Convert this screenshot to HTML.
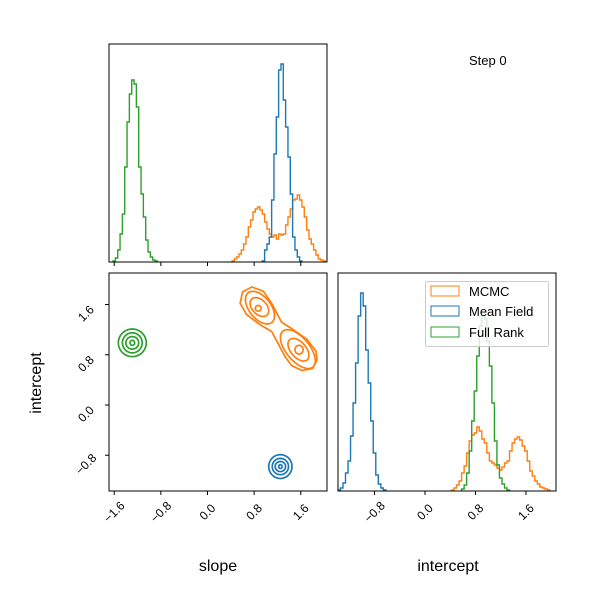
<!DOCTYPE html>
<html><head><meta charset="utf-8"><style>
html,body{margin:0;padding:0;background:#fff;}
svg{display:block;font-family:"Liberation Sans","DejaVu Sans",sans-serif;}
</style></head><body>
<svg id="chart" width="600" height="600" viewBox="0 0 600 600">
<rect width="600" height="600" fill="#fff"/>
</svg>
<script>
const binWidth = 0.04;
const slopeOrangeStart = 0.44;
const slopeOrange = [1,3,5,8,12,18,25,35,42,50,53,55,52,48,40,33,28,25,27,23,28,27,28,37,45,53,62,63,67,62,55,45,32,23,18,12,7,3,2,1];
const slopeBlueStart = 0.96;
const slopeBlue = [1,12,18,25,62,108,145,192,198,162,135,105,68,25,12,5,1];
const slopeGreenStart = -1.60;
const slopeGreen = [1,4,12,28,48,95,140,168,182,178,155,95,68,45,22,10,5,2,1];
const icptOrangeStart = 0.44;
const icptOrange = [1,3,6,10,18,25,38,50,56,58,64,60,52,48,38,30,28,26,23,21,24,28,30,40,48,52,54,51,45,40,30,20,15,10,7,4,3,2,1];
const icptBlueStart = -1.36;
const icptBlue = [1,3,8,18,30,55,88,128,175,198,185,141,108,70,38,16,7,3,1];
const icptGreenStart = 0.60;
const icptGreen = [2,6,18,40,70,100,135,165,175,172,150,125,88,50,26,13,7,3,1];
const countMax = 218;
// contours: [cx, cy, rx, ry, rho]
const greenLevels = [[-1.29,0.99,0.24,0.22,0],[-1.29,0.99,0.17,0.16,0],[-1.29,0.99,0.11,0.10,0],[-1.29,0.99,0.04,0.04,0]];
const blueLevels = [[1.25,-0.98,0.20,0.19,0],[1.25,-0.98,0.14,0.13,0],[1.25,-0.98,0.09,0.08,0],[1.25,-0.98,0.03,0.03,0]];
const orangeLevels = [[0.90,1.55,0.25,0.26,-0.5],[0.89,1.56,0.16,0.15,-0.4],[0.87,1.54,0.05,0.045,0],
                      [1.55,0.89,0.30,0.31,-0.6],[1.56,0.88,0.18,0.18,-0.5],[1.57,0.88,0.07,0.07,0]];
const orangeOuterSlope = [0.60,0.76,0.96,1.10,1.19,1.27,1.47,1.70,1.86,1.88,1.80,1.62,1.44,1.33,1.21,1.10,0.90,0.67,0.56];
const orangeOuterIcpt  = [1.80,1.88,1.81,1.62,1.46,1.32,1.20,1.05,0.86,0.72,0.58,0.55,0.63,0.77,0.98,1.17,1.28,1.44,1.62];
const slopeTicks = [-1.6,-0.8,0.0,0.8,1.6];
const icptTicks = [-0.8,0.0,0.8,1.6];
const tickLabel = {"-1.6":"\u22121.6","-0.8":"\u22120.8","0":"0.0","0.8":"0.8","1.6":"1.6"};

const C = {orange:"#ff7f0e", blue:"#1f77b4", green:"#2ca02c"};
const NS = "http://www.w3.org/2000/svg";
const svg = document.getElementById('chart');
function el(tag, attrs, parent){const e=document.createElementNS(NS,tag);for(const k in attrs)e.setAttribute(k,attrs[k]);(parent||svg).appendChild(e);return e;}

const sx = v => 207.5 + v*58.3;
const syL = v => 405 - v*62.8;
const ix = v => 425 + v*63.1;
const hTop = c => 262 - c/countMax*218;
const hBR = c => 491 - c/countMax*218;

function clip(id,x,y,w,h){const d=el('clipPath',{id:id});el('rect',{x:x,y:y,width:w,height:h},d);}
clip('cTop',109,44,218,218);clip('cBL',109,273,218,218);clip('cBR',338,273,218,218);

function histPath(start, counts, xf, yf){
  let x0 = xf(start - binWidth/2);
  let d = 'M'+x0+','+yf(0);
  counts.forEach((c,i)=>{const a=xf(start-binWidth/2+i*binWidth), b=xf(start+binWidth/2+i*binWidth);
    d+=' L'+a+','+yf(c)+' L'+b+','+yf(c);});
  d+=' L'+xf(start-binWidth/2+counts.length*binWidth)+','+yf(0);
  return d;
}
const gTop = el('g',{'clip-path':'url(#cTop)'});


[['green',slopeGreenStart,slopeGreen],['orange',slopeOrangeStart,slopeOrange],['blue',slopeBlueStart,slopeBlue]].forEach(([c,s,a])=>{
  const p = el('path',{d:histPath(s,a,sx,hTop),fill:'none',stroke:C[c],'stroke-width':1.4},gTop);
  
  
});
const gBR = el('g',{'clip-path':'url(#cBR)'});


[['orange',icptOrangeStart,icptOrange],['blue',icptBlueStart,icptBlue],['green',icptGreenStart,icptGreen]].forEach(([c,s,a])=>{
  const p = el('path',{d:histPath(s,a,ix,hBR),fill:'none',stroke:C[c],'stroke-width':1.4},gBR);
  
  
});
const gBL = el('g',{'clip-path':'url(#cBL)'});


function ellipse(l){const [cx,cy,rx,ry,rho]=l;let pts=[];for(let i=0;i<36;i++){const t=i/36*2*Math.PI;
  const x=cx+rx*Math.cos(t), y=cy+ry*(rho*Math.cos(t)+Math.sqrt(1-rho*rho)*Math.sin(t));pts.push(sx(x)+','+syL(y));}return pts.join(' ');}
[['green',greenLevels],['blue',blueLevels],['orange',orangeLevels]].forEach(([c,lv])=>{
  lv.forEach((l,i)=>{const p=el('polygon',{points:ellipse(l),fill:'none',stroke:C[c],'stroke-width':1.7,'stroke-linejoin':'round'},gBL);
    
    });
});
const outer = el('polygon',{points:orangeOuterSlope.map((v,i)=>sx(v)+','+syL(orangeOuterIcpt[i])).join(' '),fill:'none',stroke:C.orange,'stroke-width':1.7,'stroke-linejoin':'round'},gBL);



[[109,44],[109,273],[338,273]].forEach(([x,y],i)=>{const r=el('rect',{x:x,y:y,width:218,height:218,fill:'none',stroke:'#000','stroke-width':1});
  
  });

slopeTicks.forEach(t=>{
  const x=sx(t);
  el('line',{x1:x,y1:262,x2:x,y2:266,stroke:'#000'});
  el('line',{x1:x,y1:491,x2:x,y2:495,stroke:'#000'});
  const tx=el('text',{x:0,y:4,'font-size':12,'text-anchor':'middle',transform:'translate('+x+' 512) rotate(-45)'});
  tx.textContent=tickLabel[String(t)];
  
  
});
icptTicks.forEach(t=>{
  const y=syL(t);
  el('line',{x1:105,y1:y,x2:109,y2:y,stroke:'#000'});
  const ty=el('text',{x:0,y:4,'font-size':12,'text-anchor':'middle',transform:'translate(86 '+(y+9)+') rotate(-45)'});
  ty.textContent=tickLabel[String(t)];
  
  
  const x=ix(t);
  el('line',{x1:x,y1:491,x2:x,y2:495,stroke:'#000'});
  const tx=el('text',{x:0,y:4,'font-size':12,'text-anchor':'middle',transform:'translate('+x+' 512) rotate(-45)'});
  tx.textContent=tickLabel[String(t)];
  
  
});
</script>
<div style="position:absolute;left:0;top:0;width:600px;height:600px;pointer-events:none">
<svg width="600" height="600" style="font-family:'Liberation Sans','DejaVu Sans',sans-serif">
<text x="218" y="571" font-size="16" text-anchor="middle">slope</text>
<text x="448" y="571" font-size="16" text-anchor="middle">intercept</text>
<text x="0" y="0" font-size="16" text-anchor="middle" transform="translate(41 383) rotate(-90)">intercept</text>
<text x="469" y="65" font-size="13">Step 0</text>
<g>
<rect x="425.5" y="281.5" width="123" height="65" rx="2" fill="#fff" fill-opacity="0.8" stroke="#ccc"/>
<rect x="431" y="286" width="28" height="10" fill="none" stroke="#ff7f0e"/>
<text x="469" y="296" font-size="13">MCMC</text>
<rect x="431" y="306" width="28" height="10" fill="none" stroke="#1f77b4"/>
<text x="469" y="316" font-size="13">Mean Field</text>
<rect x="431" y="327" width="28" height="10" fill="none" stroke="#2ca02c"/>
<text x="469" y="337" font-size="13">Full Rank</text>
</g>
</svg></div>
</body></html>
